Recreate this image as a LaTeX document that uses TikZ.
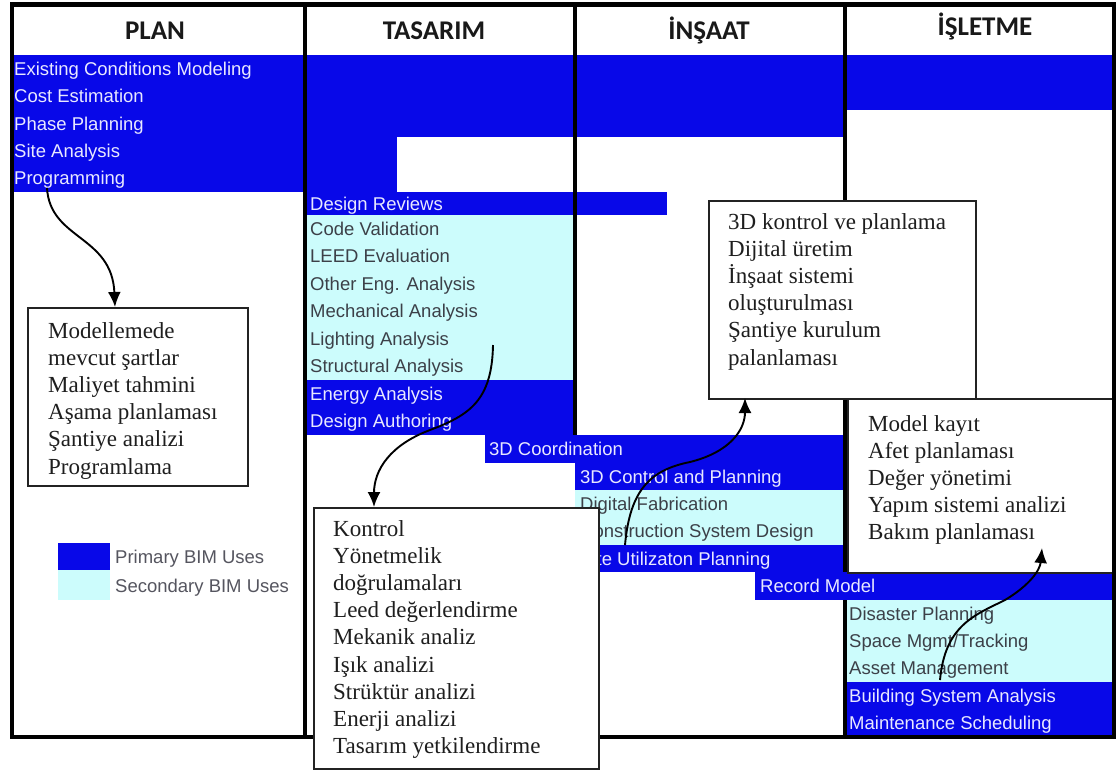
\documentclass[tikz,border=0pt]{standalone}
\usepackage{fontspec}
\setmainfont{Liberation Serif}
\newfontfamily\arialfam{Liberation Sans}
\newfontfamily\timesfam{Liberation Serif}
\newfontfamily\calfam{Carlito}
\usetikzlibrary{arrows.meta}
\definecolor{bimblue}{RGB}{8,8,232}
\definecolor{bimcyan}{RGB}{204,252,252}
\definecolor{pritext}{RGB}{232,232,255}
\definecolor{sectext}{RGB}{60,64,72}
\definecolor{hdrtext}{RGB}{25,25,25}
\definecolor{boxline}{RGB}{35,35,35}
\definecolor{notetext}{RGB}{30,30,30}
\definecolor{legtext}{RGB}{85,85,95}
\begin{document}
\begin{tikzpicture}[x=1pt,y=-1pt,
  usebar/.style={fill=bimblue},
  usebarlt/.style={fill=bimcyan},
  pri/.style={anchor=west, inner sep=0pt, text=pritext, font=\arialfam\fontsize{18.5}{22}\selectfont, text height=16pt, text depth=2.8pt},
  sec/.style={pri, text=sectext},
  leg/.style={pri, text=legtext},
  hdr/.style={inner sep=0pt, text=hdrtext, font=\calfam\bfseries\fontsize{27}{30}\selectfont, text height=17.4pt, text depth=0pt},
  note/.style={draw=boxline, line width=1.8pt, fill=white, anchor=north west, inner sep=0pt},
  notetext/.style={anchor=north west, inner sep=0pt, align=left, text=notetext, font=\timesfam\fontsize{23}{27.2}\selectfont},
  rule/.style={line width=4.5pt, draw=black},
  link/.style={line width=1.9pt, draw=black, -{Latex[length=15pt,width=13pt]}}
]
\useasboundingbox (0,0) rectangle (1118,772);
\fill[white] (0,0) rectangle (1118,772);

% ---- bars ----
\fill[usebar] (12,55) rectangle (305,192);
\fill[usebar] (305,55) rectangle (845,137);
\fill[usebar] (305,137) rectangle (397,192);
\fill[usebar] (845,55) rectangle (1113,110);
\fill[usebar] (305,192) rectangle (667,215);
\fill[usebarlt] (305,215) rectangle (575,380);
\fill[usebar] (305,380) rectangle (575,435);
\fill[usebar] (485,435) rectangle (845,463);
\fill[usebar] (575,463) rectangle (845,490);
\fill[usebarlt] (575,490) rectangle (845,545);
\fill[usebar] (575,545) rectangle (845,572);
\fill[usebar] (755,572) rectangle (1113,600);
\fill[usebarlt] (845,600) rectangle (1113,682);
\fill[usebar] (845,682) rectangle (1113,737);

% ---- headers ----
\node[hdr] (hPlan) at (155,31) {PLAN};
\node[hdr] (hTas) at (434,31) {TASARIM};
\node[hdr] (hIns) at (709,31) {İNŞAAT};
\node[hdr] (hIsl) at (985,27) {İŞLETME};

% ---- PLAN uses ----
\node[pri] (p1) at (14,68.75) {Existing Conditions Modeling};
\node[pri] (p2) at (14,96.25) {Cost Estimation};
\node[pri] (p3) at (14,123.5) {Phase Planning};
\node[pri] (p4) at (14,150.75) {Site Analysis};
\node[pri] (p5) at (14,178.25) {Programming};

% ---- TASARIM uses ----
\node[pri] (t1) at (310,203.5) {Design Reviews};
\node[sec] (t2) at (310,228.75) {Code Validation};
\node[sec] (t3) at (310,256.25) {LEED Evaluation};
\node[sec] (t4) at (310,283.75) {Other Eng. Analysis};
\node[sec] (t5) at (310,311.25) {Mechanical Analysis};
\node[sec] (t6) at (310,338.75) {Lighting Analysis};
\node[sec] (t7) at (310,366.25) {Structural Analysis};
\node[pri] (t8) at (310,393.75) {Energy Analysis};
\node[pri] (t9) at (310,421.25) {Design Authoring};

% ---- INSAAT uses ----
\node[pri] (i1) at (489,449) {3D Coordination};
\node[pri] (i2) at (580,476.5) {3D Control and Planning};
\node[sec] (i3) at (580,503.75) {Digital Fabrication};
\node[sec] (i4) at (580,531.25) {Construction System Design};
\node[pri] (i5) at (580,558.5) {Site Utilizaton Planning};

% ---- ISLETME uses ----
\node[pri] (o1) at (760,586) {Record Model};
\node[sec] (o2) at (849,613.7) {Disaster Planning};
\node[sec] (o3) at (849,641) {Space Mgmt/Tracking};
\node[sec] (o4) at (849,668.3) {Asset Management};
\node[pri] (o5) at (849,695.75) {Building System Analysis};
\node[pri] (o6) at (849,723.25) {Maintenance Scheduling};

% ---- box in the last column (under the rules) ----
\node[note, minimum width=265, minimum height=174] (bIsl) at (847,398) {};
\node[notetext] (nIsl) at (868,415) {Model kayıt\\Afet planlaması\\Değer yönetimi\\Yapım sistemi analizi\\Bakım planlaması};

% ---- rules and frame ----
\draw[rule] (305,4.5) -- (305,737);
\draw[rule] (575,4.5) -- (575,435);
\draw[rule] (845,4.5) -- (845,200);
\draw[rule] (845,398) -- (845,572);
\draw[rule] (845,600) -- (845,737);
\draw[rule] (12,4.5) rectangle (1114,737);

% ---- note boxes ----
\node[note, minimum width=220, minimum height=178] (bPlan) at (27,307) {};
\node[notetext] (nPlan) at (48,322) {Modellemede\\mevcut şartlar\\Maliyet tahmini\\Aşama planlaması\\Şantiye analizi\\Programlama};

\node[note, minimum width=285, minimum height=261] (bTas) at (313,507) {};
\node[notetext] (nTas) at (333,520) {Kontrol\\Yönetmelik\\doğrulamaları\\Leed değerlendirme\\Mekanik analiz\\Işık analizi\\Strüktür analizi\\Enerji analizi\\Tasarım yetkilendirme};

\node[note, minimum width=267, minimum height=198] (bIns) at (708,200) {};
\node[notetext] (nIns) at (728,213) {3D kontrol ve planlama\\Dijital üretim\\İnşaat sistemi\\oluşturulması\\Şantiye kurulum\\palanlaması};

% ---- legend ----
\node[usebar, anchor=north west, inner sep=0pt, minimum width=52, minimum height=27] (lgP) at (58,543) {};
\node[usebarlt, anchor=north west, inner sep=0pt, minimum width=52, minimum height=30] (lgS) at (58,570) {};
\node[leg] (lgPt) at (115,557) {Primary BIM Uses};
\node[leg] (lgSt) at (115,586) {Secondary BIM Uses};

% ---- connectors ----
\coordinate (aP) at (47,188);
\coordinate (eP) at (115,307);
\coordinate (aT) at (493,345);
\coordinate (mT) at (430,430);
\coordinate (eT) at (374,507);
\coordinate (aI) at (625,545);
\coordinate (mI) at (690,462);
\coordinate (eI) at (745,398);
\coordinate (aO) at (940,680);
\coordinate (mO) at (1005,600);
\coordinate (eO) at (1042,548);

\draw[link] (aP) .. controls (50,240) and (112,235) .. (eP);
\draw[link] (aT) .. controls (492,400) and (470,415) .. (mT) .. controls (390,445) and (374,470) .. (eT);
\draw[link] (aI) .. controls (630,490) and (650,470) .. (mI) .. controls (730,452) and (745,430) .. (eI);
\draw[link] (aO) .. controls (945,625) and (975,615) .. (mO) .. controls (1030,585) and (1040,570) .. (eO);
\end{tikzpicture}
\end{document}
